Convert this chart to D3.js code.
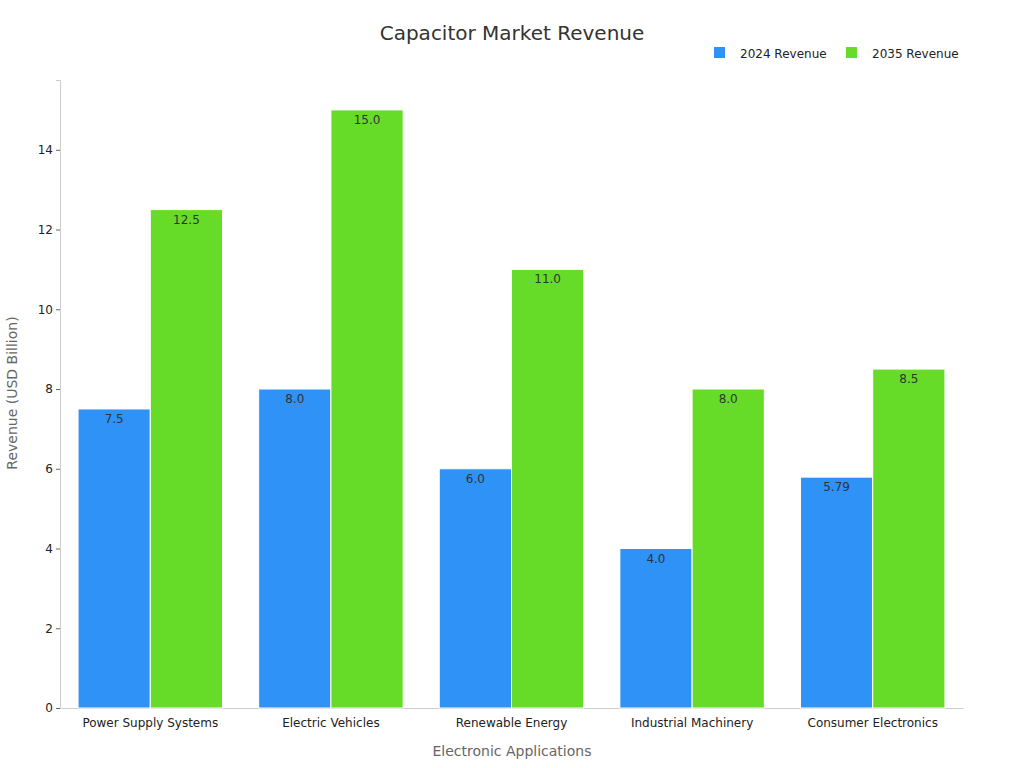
<!DOCTYPE html>
<html><head><meta charset="utf-8">
<script src="https://cdn.jsdelivr.net/npm/d3@7"></script>
<style>body{margin:0;background:#fff;font-family:"DejaVu Sans",sans-serif}</style>
</head><body><svg id="chart" width="1024" height="768"></svg>
<script>
var categories = ['Power Supply Systems','Electric Vehicles','Renewable Energy','Industrial Machinery','Consumer Electronics']
var rev2024 = [7.5, 8.0, 6.0, 4.0, 5.79]
var rev2035 = [12.5, 15.0, 11.0, 8.0, 8.5]
var labels2024 = ['7.5','8.0','6.0','4.0','5.79']
var labels2035 = ['12.5','15.0','11.0','8.0','8.5']
var seriesNames = ['2024 Revenue','2035 Revenue']
var colors = ['#2f92f7','#66dc28']

var margin = {left: 60, right: 61, top: 80, bottom: 60}
var svg = d3.select('#chart')
var w = 1024, h = 768

var x = d3.scaleBand().domain(categories).range([margin.left, w - margin.right]).paddingInner(0.2).paddingOuter(0.1)
var y = d3.scaleLinear().domain([0, 15.75]).range([h - margin.bottom, margin.top])

svg.append('text').text('Capacitor Market Revenue')
    .attr('x', 512).attr('y', 40).attr('text-anchor','middle')
    .attr('font-size','20px').attr('fill','#333')

var gx = svg.append('g').attr('transform','translate(0,' + (h - margin.bottom) + ')')
    .call(d3.axisBottom(x).tickSize(0).tickPadding(10))
gx.select('.domain').attr('stroke','#ccc')
gx.selectAll('text').attr('font-size','12px').attr('fill','#222').attr('font-family','DejaVu Sans')

var gy = svg.append('g').attr('transform','translate(' + margin.left + ',0)')
    .call(d3.axisLeft(y).tickValues([0,2,4,6,8,10,12,14]).tickSize(4))
gy.select('.domain').attr('stroke','#ccc')
gy.selectAll('line').attr('stroke','#666')
gy.selectAll('text').attr('font-size','12px').attr('fill','#222').attr('font-family','DejaVu Sans')

svg.append('text').text('Electronic Applications')
    .attr('x', 512).attr('y', 756).attr('text-anchor','middle')
    .attr('font-size','14px').attr('fill','#666')
svg.append('text').text('Revenue (USD Billion)')
    .attr('transform','translate(17,' + 393 + ') rotate(-90)').attr('text-anchor','middle')
    .attr('font-size','14px').attr('fill','#666')

var bw = x.bandwidth() / 2
;[rev2024, rev2035].forEach(function(vals, s) {
    var labs = s === 0 ? labels2024 : labels2035
    var g = svg.append('g')
    g.selectAll('rect').data(vals).enter().append('rect')
        .attr('x', function(d, i) { return x(categories[i]) + s * bw })
        .attr('y', function(d) { return y(d) })
        .attr('width', bw).attr('height', function(d) { return y(0) - y(d) })
        .attr('fill', colors[s]).attr('stroke','#fff').attr('stroke-width',1)
    g.selectAll('text').data(vals).enter().append('text')
        .text(function(d, i) { return labs[i] })
        .attr('x', function(d, i) { return x(categories[i]) + s * bw + bw / 2 })
        .attr('y', function(d) { return y(d) + 14 })
        .attr('text-anchor','middle').attr('font-size','12px').attr('fill','#333')
})

var legendX = [714, 846]
seriesNames.forEach(function(n, i) {
    svg.append('rect').attr('x', legendX[i]).attr('y', 47).attr('width', 11).attr('height', 11).attr('fill', colors[i])
    svg.append('text').text(n).attr('x', legendX[i] + 26).attr('y', 58)
        .attr('font-size','12px').attr('fill','#222')
})
</script></body></html>
